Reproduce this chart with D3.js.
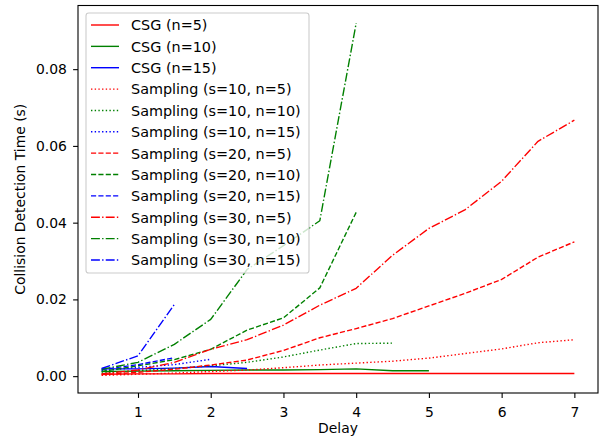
<!DOCTYPE html>
<html>
<head>
<meta charset="utf-8">
<script src="https://cdnjs.cloudflare.com/ajax/libs/d3/7.8.5/d3.min.js"></script>
<style>
  body { margin: 0; background: #fff; }
  svg { display: block; font-family: "DejaVu Sans", sans-serif; }
  .tick text { font-size: 13.9px; fill: #000; }
</style>
</head>
<body>
<svg id="chart" width="603" height="437"></svg>
<script>
// delay values (x)
var delays = [0.5, 1, 1.5, 2, 2.5, 3, 3.5, 4, 4.5, 5, 5.5, 6, 6.5, 7];

// collision detection time (s), one array per run
var csgN5 = [0.0005, 0.0006, 0.0006, 0.0007, 0.0007, 0.0007, 0.0007, 0.0007, 0.0007, 0.0007, 0.0007, 0.0007, 0.0007, 0.0007];
var csgN10 = [0.0012, 0.0013, 0.0014, 0.0015, 0.0016, 0.0016, 0.0017, 0.0019, 0.0014, 0.0014];
var csgN15 = [0.0019, 0.0019, 0.0021, 0.0025, 0.0020];
var s10N5 = [0.0002, 0.0005, 0.0008, 0.0012, 0.0016, 0.0022, 0.0029, 0.0034, 0.0039, 0.0047, 0.0059, 0.0071, 0.0087, 0.0095];
var s10N10 = [0.0008, 0.0014, 0.0020, 0.0027, 0.0036, 0.0050, 0.0068, 0.0085, 0.0086];
var s10N15 = [0.0014, 0.0023, 0.0030, 0.0044];
var s20N5 = [0.0004, 0.0010, 0.0018, 0.0029, 0.0042, 0.0067, 0.0100, 0.0124, 0.0150, 0.0183, 0.0216, 0.0252, 0.0310, 0.0350];
var s20N10 = [0.0012, 0.0027, 0.0043, 0.0070, 0.0120, 0.0152, 0.0230, 0.0427];
var s20N15 = [0.0017, 0.0030, 0.0048];
var s30N5 = [0.0006, 0.0016, 0.0036, 0.0070, 0.0095, 0.0133, 0.0185, 0.0229, 0.0315, 0.0385, 0.0434, 0.0508, 0.0612, 0.0667];
var s30N10 = [0.0018, 0.0036, 0.0083, 0.0148, 0.0278, 0.0340, 0.0405, 0.0920];
var s30N15 = [0.0020, 0.0053, 0.0187];

var labels = ["CSG (n=5)", "CSG (n=10)", "CSG (n=15)",
  "Sampling (s=10, n=5)", "Sampling (s=10, n=10)", "Sampling (s=10, n=15)",
  "Sampling (s=20, n=5)", "Sampling (s=20, n=10)", "Sampling (s=20, n=15)",
  "Sampling (s=30, n=5)", "Sampling (s=30, n=10)", "Sampling (s=30, n=15)"];
var xTicks = [1, 2, 3, 4, 5, 6, 7];
var yTicks = [0, 0.02, 0.04, 0.06, 0.08];

var colors = ["#ff0000", "#008000", "#0000ff"];
var lw = 1.39;
var dashes = {
  solid: null,
  dotted: [1 * lw, 1.65 * lw].join(","),
  dashed: [3.7 * lw, 1.6 * lw].join(","),
  dashdot: [6.4 * lw, 1.6 * lw, 1 * lw, 1.6 * lw].join(",")
};
var styleOrder = ["solid", "dotted", "dashed", "dashdot"];

var seriesValues = [csgN5, csgN10, csgN15, s10N5, s10N10, s10N15, s20N5, s20N10, s20N15, s30N5, s30N10, s30N15];
var series = seriesValues.map(function(vals, i) {
  return {
    label: labels[i],
    color: colors[i % 3],
    dash: dashes[styleOrder[Math.floor(i / 3)]],
    points: vals.map(function(v, j) { return {x: delays[j], y: v}; })
  };
});

// plot area box
var pLeft = 78, pRight = 598, pTop = 5.5, pBottom = 393;

var xMin = d3.min(series, function(s) { return d3.min(s.points, function(p) { return p.x; }); });
var xMax = d3.max(series, function(s) { return d3.max(s.points, function(p) { return p.x; }); });
var yMin = d3.min(seriesValues, function(v) { return d3.min(v); });
var yMax = d3.max(seriesValues, function(v) { return d3.max(v); });
var xPad = (xMax - xMin) * 0.05, yPad = (yMax - yMin) * 0.05;

var x = d3.scaleLinear().domain([xMin - xPad, xMax + xPad]).range([pLeft, pRight]);
var y = d3.scaleLinear().domain([yMin - yPad, yMax + yPad]).range([pBottom, pTop]);

var svg = d3.select("#chart");

var line = d3.line()
  .x(function(d) { return x(d.x); })
  .y(function(d) { return y(d.y); });

svg.append("g").selectAll("path")
  .data(series)
  .enter().append("path")
  .attr("d", function(d) { return line(d.points); })
  .attr("fill", "none")
  .attr("stroke", function(d) { return d.color; })
  .attr("stroke-width", lw)
  .attr("stroke-dasharray", function(d) { return d.dash; })
  .attr("stroke-linejoin", "round");

// axes
var xAxis = d3.axisBottom(x).tickValues(xTicks).tickFormat(d3.format("d")).tickSize(4.9).tickSizeOuter(0);
var yAxis = d3.axisLeft(y).tickValues(yTicks).tickFormat(d3.format(".2f")).tickSize(4.9).tickPadding(6.2).tickSizeOuter(0);

var gx = svg.append("g").attr("transform", "translate(0," + pBottom + ")").call(xAxis);
gx.select(".domain").remove();
gx.selectAll(".tick line").attr("stroke", "#000").attr("stroke-width", 1.1);
gx.selectAll(".tick text").attr("y", 24).attr("dy", null).style("font-family", "DejaVu Sans");

var gy = svg.append("g").attr("transform", "translate(" + pLeft + ",0)").call(yAxis);
gy.select(".domain").remove();
gy.selectAll(".tick line").attr("stroke", "#000").attr("stroke-width", 1.1);
gy.selectAll(".tick text").style("font-family", "DejaVu Sans");

// frame
svg.append("rect")
  .attr("x", pLeft).attr("y", pTop)
  .attr("width", pRight - pLeft).attr("height", pBottom - pTop)
  .attr("fill", "none").attr("stroke", "#000").attr("stroke-width", 1.1);

// axis titles
svg.append("text")
  .attr("x", (pLeft + pRight) / 2).attr("y", 433)
  .attr("text-anchor", "middle")
  .style("font-size", "13.9px")
  .text("Delay");
svg.append("text")
  .attr("transform", "translate(25," + ((pTop + pBottom) / 2) + ") rotate(-90)")
  .attr("text-anchor", "middle")
  .style("font-size", "13.9px")
  .text("Collision Detection Time (s)");

// legend
var leg = svg.append("g");
leg.append("rect")
  .attr("x", 86).attr("y", 13)
  .attr("width", 223).attr("height", 260)
  .attr("rx", 2.8).attr("ry", 2.8)
  .attr("fill", "rgba(255,255,255,0.8)")
  .attr("stroke", "#cccccc").attr("stroke-width", 1.1);

var rowH = 21.36, row0 = 25;
var items = leg.selectAll(".item")
  .data(series)
  .enter().append("g")
  .attr("class", "item")
  .attr("transform", function(d, i) { return "translate(0," + (row0 + i * rowH) + ")"; });
items.append("line")
  .attr("x1", 91).attr("x2", 119).attr("y1", 0).attr("y2", 0)
  .attr("stroke", function(d) { return d.color; })
  .attr("stroke-width", lw)
  .attr("stroke-dasharray", function(d) { return d.dash; });
items.append("text")
  .attr("x", 131).attr("y", 5.4)
  .style("font-size", "14.4px")
  .text(function(d) { return d.label; });
</script>
</body>
</html>
